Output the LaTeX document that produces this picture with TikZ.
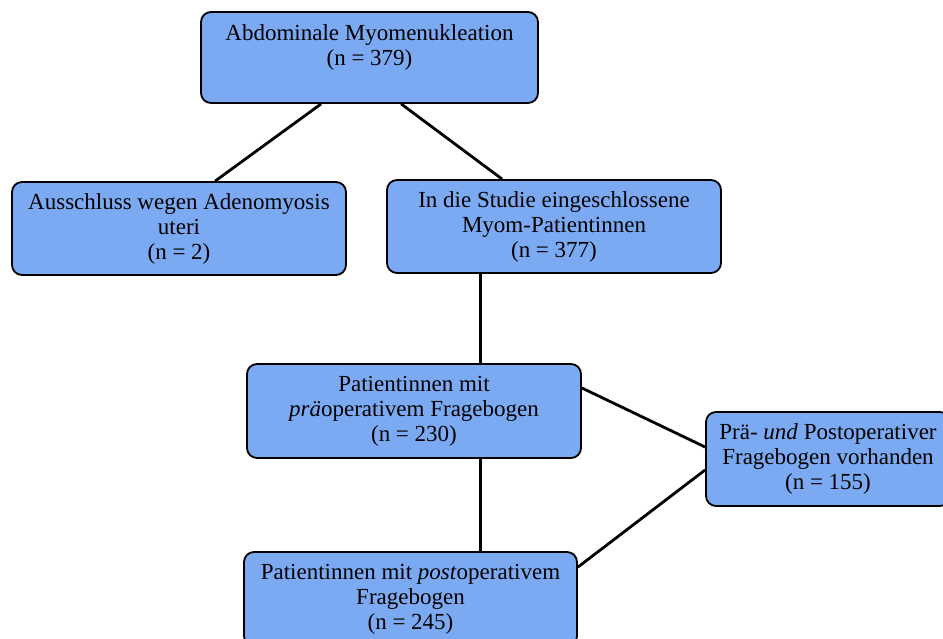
\documentclass[tikz,border=0pt]{standalone}
\usepackage{fontspec}
\setmainfont{Liberation Serif}
\usetikzlibrary{calc}
\definecolor{boxblue}{HTML}{7BAAF2}
\begin{document}
\begin{tikzpicture}[x=1pt,y=-1pt,
  box/.style={draw=black, line width=1.8pt, fill=boxblue, rounded corners=10pt,
    align=center, font=\fontsize{23}{25}\selectfont, inner sep=0pt},
  conn/.style={draw=black, line width=2.8pt}]
\useasboundingbox (0,0) rectangle (943,639);
\node[box, minimum width=337pt, minimum height=91pt] (top) at (369.5,57.5)
  {Abdominale Myomenukleation\\(n = 379)\\\mbox{}};
\node[box, minimum width=334pt, minimum height=93pt] (left) at (179,228.5)
  {Ausschluss wegen Adenomyosis\\uteri\\(n = 2)};
\node[box, minimum width=334pt, minimum height=93pt] (mid) at (554,226.5)
  {In die Studie eingeschlossene\\Myom-Patientinnen\\(n = 377)};
\node[box, minimum width=334pt, minimum height=94pt] (pre) at (414,411)
  {Patientinnen mit\\\textit{prä}operativem Fragebogen\\(n = 230)};
\node[box, minimum width=244pt, minimum height=94pt] (both) at (828,459)
  {Prä- \textit{und} Postoperativer\\Fragebogen vorhanden\\(n = 155)};
\node[box, minimum width=333pt, minimum height=94pt] (post) at (410.5,599)
  {Patientinnen mit \textit{post}operativem\\Fragebogen\\(n = 245)};
\draw[conn] ($(top.south west)+(121,0)$) -- ($(left.north west)+(204,0)$);
\draw[conn] ($(top.south west)+(201,0)$) -- ($(mid.north west)+(116,0)$);
\draw[conn] ($(mid.south west)+(94,0)$) -- ($(pre.north west)+(234,0)$);
\draw[conn] ($(pre.south west)+(234,0)$) -- ($(post.north west)+(237,0)$);
\draw[conn] ($(pre.east)+(0,-23)$) -- ($(both.west)+(0,-12)$);
\draw[conn] ($(post.north east)+(0,16)$) -- ($(both.west)+(0,11)$);
\end{tikzpicture}
\end{document}
